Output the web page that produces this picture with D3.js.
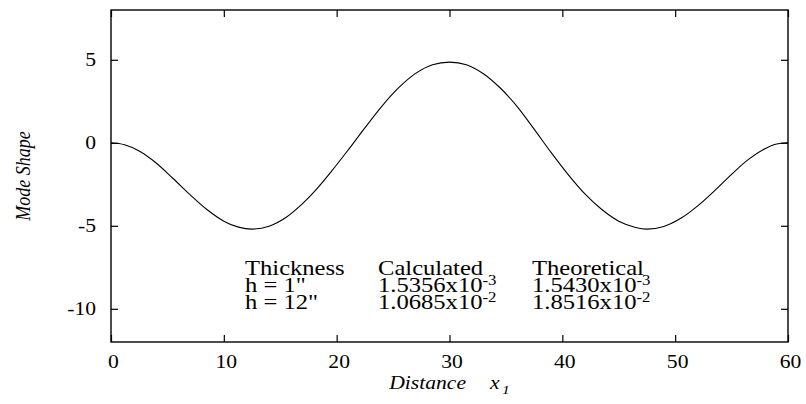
<!DOCTYPE html>
<html>
<head>
<meta charset="utf-8">
<script src="https://cdn.jsdelivr.net/npm/d3@7"></script>
<style>
  html, body { margin: 0; padding: 0; background: #fff; }
  svg { display: block; }
  text { font-family: "Liberation Serif", "Times New Roman", serif; fill: #000; }
</style>
</head>
<body>
<svg id="chart" width="806" height="404"></svg>
<script>
// ---- data ----
const distance = [0, 1.2, 2.5, 4, 5.5, 7, 8.5, 10, 11.3, 12.5, 14, 15.5, 17, 18, 19.5, 21, 22.5, 24, 25.5, 27, 28.5, 30,
                  31.5, 33, 34.5, 36, 37.5, 39, 40.5, 42, 43.5, 45, 46.5, 47.5, 49, 50.5, 52, 53.5, 55, 56.5, 58, 58.8, 60];
const modeShape = [0, -0.12, -0.5, -1.22, -2.15, -3.12, -4.02, -4.72, -5.08, -5.2, -5.03, -4.5, -3.65, -2.96, -1.75, -0.45, 0.9, 2.2, 3.32, 4.18, 4.7, 4.86,
                   4.7, 4.16, 3.3, 2.18, 0.82, -0.58, -1.9, -3.08, -4.02, -4.72, -5.1, -5.2, -5.04, -4.55, -3.8, -2.88, -1.9, -1.0, -0.34, -0.1, 0];
const xTicks = [0, 10, 20, 30, 40, 50, 60];
const yTicks = [-10, -5, 0, 5];
const tableHeader = ["Thickness", "Calculated", "Theoretical"];
const thicknessLabels = ['h = 1"', 'h = 12"'];
const calcMantissa = ["1.5356", "1.0685"];
const calcExponent = ["-3", "-2"];
const theoMantissa = ["1.5430", "1.8516"];
const theoExponent = ["-3", "-2"];

// ---- layout ----
const SX = 1.2; // horizontal text stretch of the original
const mL = 111, mR = 788, mT = 10, mB = 342;
const svg = d3.select("#chart");
const x = d3.scaleLinear().domain([0, 60]).range([mL, mR]);
const y = d3.scaleLinear().domain([-12, 8]).range([mB, mT]);

// frame
svg.append("rect").attr("x", mL).attr("y", mT).attr("width", mR - mL).attr("height", mB - mT)
  .attr("fill", "none").attr("stroke", "#000").attr("stroke-width", 1.4);

const tl = 7;
const fmt = d => String(d);
const gB = svg.append("g").attr("transform", `translate(0,${mB})`)
  .call(d3.axisBottom(x).tickValues(xTicks).tickSize(-tl).tickPadding(0).tickFormat(fmt));
const gT = svg.append("g").attr("transform", `translate(0,${mT})`)
  .call(d3.axisTop(x).tickValues(xTicks).tickSize(-tl).tickFormat(""));
const gL = svg.append("g").attr("transform", `translate(${mL},0)`)
  .call(d3.axisLeft(y).tickValues(yTicks).tickSize(-tl).tickPadding(0).tickFormat(fmt));
const gR = svg.append("g").attr("transform", `translate(${mR},0)`)
  .call(d3.axisRight(y).tickValues(yTicks).tickSize(-tl).tickFormat(""));

[gB, gT, gL, gR].forEach(g => {
  g.select(".domain").remove();
  g.selectAll(".tick line").attr("stroke", "#000").attr("stroke-width", 1.2);
  g.selectAll("text").attr("font-size", 18).attr("font-family", null);
});
gB.selectAll(".tick text").attr("y", 0).attr("dy", 0)
  .attr("transform", `translate(2,26) scale(${SX},1)`);
gL.selectAll(".tick text").attr("x", 0).attr("dy", 0)
  .attr("transform", `translate(-15,6) scale(${SX},1)`);

// curve
const pts = distance.map((d, i) => [d, modeShape[i]]);
svg.append("path").datum(pts)
  .attr("fill", "none").attr("stroke", "#000").attr("stroke-width", 1.1)
  .attr("d", d3.line().x(d => x(d[0])).y(d => y(d[1])).curve(d3.curveCatmullRom.alpha(0.5)));

// axis titles
const xt = svg.append("text").attr("text-anchor", "middle").attr("font-size", 18).attr("font-style", "italic")
  .attr("transform", `translate(${(mL + mR) / 2},389) scale(${SX},1)`);
xt.append("tspan").text("Distance");
xt.append("tspan").attr("dx", 20).text("x");
xt.append("tspan").attr("font-size", 13).attr("dx", 2).attr("dy", 5).text("1");

svg.append("text").attr("text-anchor", "middle").attr("font-size", 18).attr("font-style", "italic")
  .attr("transform", `translate(30,${(mT + mB) / 2}) scale(${SX},1) rotate(-90)`)
  .text("Mode Shape");

// table
const TF = 20.5;
const colX = [245, 378, 532];
const rowY = [275, 292, 309];
tableHeader.forEach((t, i) => {
  svg.append("text").attr("font-size", TF)
    .attr("transform", `translate(${colX[i]},${rowY[0]}) scale(${SX},1)`).text(t);
});
thicknessLabels.forEach((t, r) => {
  svg.append("text").attr("font-size", TF)
    .attr("transform", `translate(${colX[0]},${rowY[r + 1]}) scale(${SX},1)`).text(t);
  const c = svg.append("text").attr("font-size", TF)
    .attr("transform", `translate(${colX[1]},${rowY[r + 1]}) scale(${SX},1)`);
  c.append("tspan").text(calcMantissa[r] + "x10");
  c.append("tspan").attr("font-size", 14).attr("dy", -7).text(calcExponent[r]);
  const th = svg.append("text").attr("font-size", TF)
    .attr("transform", `translate(${colX[2]},${rowY[r + 1]}) scale(${SX},1)`);
  th.append("tspan").text(theoMantissa[r] + "x10");
  th.append("tspan").attr("font-size", 14).attr("dy", -7).text(theoExponent[r]);
});
</script>
</body>
</html>
